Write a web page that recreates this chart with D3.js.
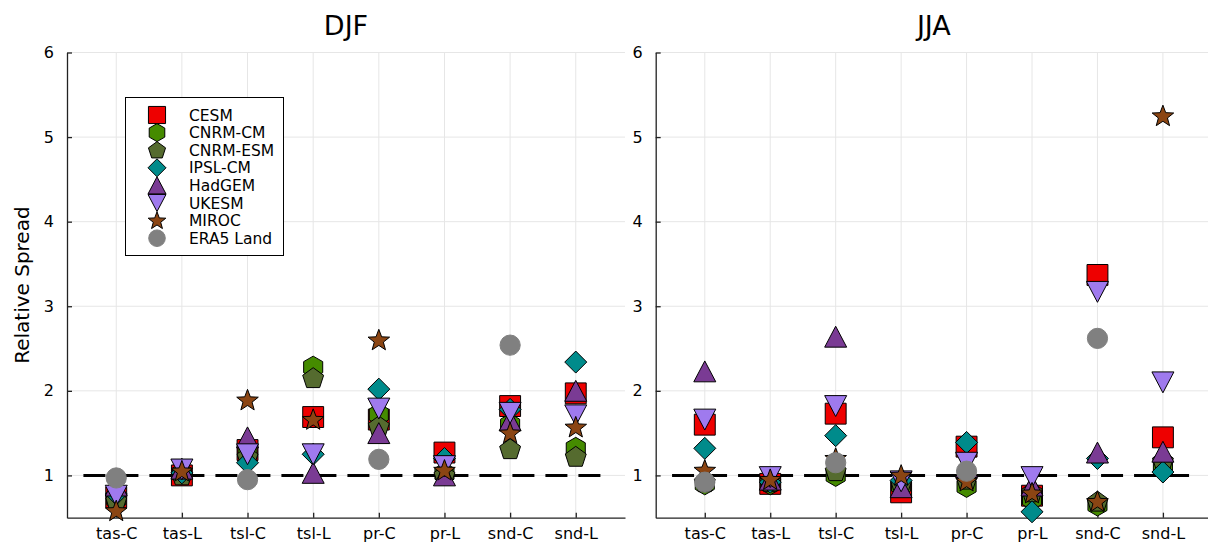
<!DOCTYPE html>
<html>
<head>
<meta charset="utf-8">
<script src="https://cdn.jsdelivr.net/npm/d3@7"></script>
<style>
  body { margin: 0; background: #fff; }
  svg { display: block; }
  text { font-family: "DejaVu Sans", sans-serif; fill: #000; }
</style>
</head>
<body>
<svg id="chart" width="1208" height="546"></svg>
<script>
// ---- data ----
const categories = ["tas-C", "tas-L", "tsl-C", "tsl-L", "pr-C", "pr-L", "snd-C", "snd-L"];
const models = ["CESM", "CNRM-CM", "CNRM-ESM", "IPSL-CM", "HadGEM", "UKESM", "MIROC", "ERA5 Land"];
const seasons = ["DJF", "JJA"];
const yTicks = [1, 2, 3, 4, 5, 6];

// DJF relative spread per model (null = not available)
const djfCESM    = [0.74, 1.00, 1.30, 1.69, 1.66, 1.27, 1.82, 1.97];
const djfCNRMCM  = [0.72, 1.02, 1.28, 2.28, 1.72, 1.02, 1.60, 1.32];
const djfCNRMESM = [0.70, 1.00, 1.22, 2.15, 1.58, 1.00, 1.31, 1.22];
const djfIPSL    = [0.78, 1.03, 1.15, 1.25, 2.02, 1.20, 1.78, 2.34];
const djfHadGEM  = [0.88, 1.08, 1.45, 1.03, 1.50, 1.00, 1.65, 2.00];
const djfUKESM   = [0.76, 1.07, 1.25, 1.25, 1.79, 1.11, 1.74, 1.71];
const djfMIROC   = [0.58, 1.05, 1.89, 1.66, 2.60, 1.06, 1.50, 1.57];
const djfERA5    = [0.97, null, 0.95, null, 1.19, null, 2.54, null];

// JJA relative spread per model
const jjaCESM    = [1.60, 0.90, 1.73, 0.80, 1.34, 0.76, 3.37, 1.45];
const jjaCNRMCM  = [0.90, 0.90, 1.00, 0.88, 0.87, 0.72, 0.65, 1.12];
const jjaCNRMESM = [0.92, 0.92, 1.05, 0.90, 0.95, 0.80, 0.69, 1.17];
const jjaIPSL    = [1.32, 0.92, 1.47, 0.94, 1.39, 0.57, 1.20, 1.04];
const jjaHadGEM  = [2.23, 0.95, 2.64, 0.86, 1.10, 0.88, 1.27, 1.28];
const jjaUKESM   = [1.66, 0.98, 1.82, 0.93, 1.15, 0.98, 3.17, 2.10];
const jjaMIROC   = [1.06, 0.95, 1.20, 1.00, 0.93, 0.79, 0.69, 5.25];
const jjaERA5    = [0.92, null, 1.15, null, 1.05, null, 2.62, null];

const djfSeries = [djfCESM, djfCNRMCM, djfCNRMESM, djfIPSL, djfHadGEM, djfUKESM, djfMIROC, djfERA5];
const jjaSeries = [jjaCESM, jjaCNRMCM, jjaCNRMESM, jjaIPSL, jjaHadGEM, jjaUKESM, jjaMIROC, jjaERA5];

// ---- styles ----
const modelColors = ["#ee0000", "#458b00", "#556b2f", "#008b8b", "#7a3b94", "#9f7aee", "#8b4513", "#808080"];
const modelShapes = ["square", "hexagon", "pentagon", "diamond", "utriangle", "dtriangle", "star", "circle"];
const modelStrokes = ["#000", "#000", "#000", "#000", "#000", "#000", "#000", "#808080"];

// marker outline for a shape of nominal size s (px)
function shapePath(type, s) {
  const h = s / 2;
  const poly = pts => "M" + pts.map(p => p[0].toFixed(2) + "," + p[1].toFixed(2)).join("L") + "Z";
  const ngon = (n, r, rot) => d3.range(n).map(i => {
    const a = rot + i * 2 * Math.PI / n;
    return [r * Math.sin(a), -r * Math.cos(a)];
  });
  switch (type) {
    case "square": return poly([[-h*0.95, -h*0.95], [h*0.95, -h*0.95], [h*0.95, h*0.95], [-h*0.95, h*0.95]]);
    case "circle": {
      const r = h * 0.92;
      return `M${r},0A${r},${r} 0 1,1 ${-r},0A${r},${r} 0 1,1 ${r},0Z`;
    }
    case "diamond": return poly([[0, -h], [h, 0], [0, h], [-h, 0]]);
    case "utriangle": return poly([[0, -h*0.95], [h, h*0.95], [-h, h*0.95]]);
    case "dtriangle": return poly([[0, h*0.95], [h, -h*0.95], [-h, -h*0.95]]);
    case "hexagon": return poly(ngon(6, h, 0));
    case "pentagon": return poly(ngon(5, h, 0).map(p => [p[0], p[1] + h * 0.05]));
    case "star": {
      const R = h * 1.03, r = R * 0.42;
      const pts = d3.range(10).map(i => {
        const a = i * Math.PI / 5;
        const rr = i % 2 === 0 ? R : r;
        return [rr * Math.sin(a), -rr * Math.cos(a) + R * 0.05];
      });
      return poly(pts);
    }
  }
}

const svg = d3.select("#chart");
const panels = [
  { title: seasons[0], series: djfSeries, left: 67, right: 625 },
  { title: seasons[1], series: jjaSeries, left: 655.7, right: 1212 }
];
const plotTop = 52.5, plotBottom = 517.7;
const y = d3.scaleLinear().domain([0.5, 6]).range([plotBottom, plotTop]);
const markerSize = 22;

panels.forEach((p, pi) => {
  const x = d3.scaleLinear().domain([0.25, 8.75]).range([p.left, p.right]);
  const g = svg.append("g");

  // grid
  g.append("g").selectAll("line").data(categories).join("line")
    .attr("x1", (d, i) => x(i + 1)).attr("x2", (d, i) => x(i + 1))
    .attr("y1", plotTop).attr("y2", plotBottom)
    .attr("stroke", "#e6e6e6").attr("stroke-width", 1);
  g.append("g").selectAll("line").data(yTicks).join("line")
    .attr("x1", p.left).attr("x2", p.right)
    .attr("y1", d => y(d)).attr("y2", d => y(d))
    .attr("stroke", "#e6e6e6").attr("stroke-width", 1);

  // axes
  const yAxis = d3.axisLeft(y).tickValues(yTicks).tickFormat(d3.format("d"))
    .tickSizeInner(-5).tickSizeOuter(0).tickPadding(13);
  const ya = g.append("g").attr("transform", `translate(${p.left},0)`).call(yAxis);
  const xAxis = d3.axisBottom(x).tickValues(d3.range(1, categories.length + 1))
    .tickFormat(d => categories[d - 1]).tickSizeInner(-5).tickSizeOuter(0).tickPadding(10);
  const xa = g.append("g").attr("transform", `translate(0,${plotBottom})`).call(xAxis);
  [ya, xa].forEach(a => {
    a.select(".domain").attr("stroke", "#222").attr("stroke-width", 1.3);
    a.selectAll(".tick line").attr("stroke", "#222").attr("stroke-width", 1.3);
    a.selectAll(".tick text").attr("font-size", 16).attr("font-family", "DejaVu Sans").attr("fill", "#000");
  });

  // reference line at 1
  g.append("line")
    .attr("x1", x(0.5)).attr("x2", x(8.5)).attr("y1", y(1)).attr("y2", y(1))
    .attr("stroke", "#000").attr("stroke-width", 3).attr("stroke-dasharray", "22 11");

  // markers, one model after another
  p.series.forEach((vals, mi) => {
    g.append("g").selectAll("path")
      .data(vals.map((v, i) => ({ v, i })).filter(d => d.v !== null))
      .join("path")
      .attr("d", shapePath(modelShapes[mi], markerSize))
      .attr("transform", d => `translate(${x(d.i + 1)},${y(d.v)})`)
      .attr("fill", modelColors[mi])
      .attr("stroke", modelStrokes[mi]).attr("stroke-width", 1);
  });

  // title
  g.append("text").attr("x", (p.left + p.right) / 2).attr("y", 35)
    .attr("text-anchor", "middle").attr("font-size", 27).text(p.title);
});

// y label
svg.append("text").attr("transform", `translate(29,${(plotTop + plotBottom) / 2}) rotate(-90)`)
  .attr("text-anchor", "middle").attr("font-size", 20).text("Relative Spread");

// legend
const lg = svg.append("g");
lg.append("rect").attr("x", 125.5).attr("y", 97.5).attr("width", 158).attr("height", 158)
  .attr("fill", "#fff").attr("stroke", "#000").attr("stroke-width", 1);
models.forEach((m, mi) => {
  const cy = 115 + mi * 17.6;
  lg.append("path").attr("d", shapePath(modelShapes[mi], 18))
    .attr("transform", `translate(157,${cy})`)
    .attr("fill", modelColors[mi]).attr("stroke", modelStrokes[mi]).attr("stroke-width", 1);
  lg.append("text").attr("x", 189).attr("y", cy + 5.5).attr("font-size", 15.5).text(m);
});
</script>
</body>
</html>
